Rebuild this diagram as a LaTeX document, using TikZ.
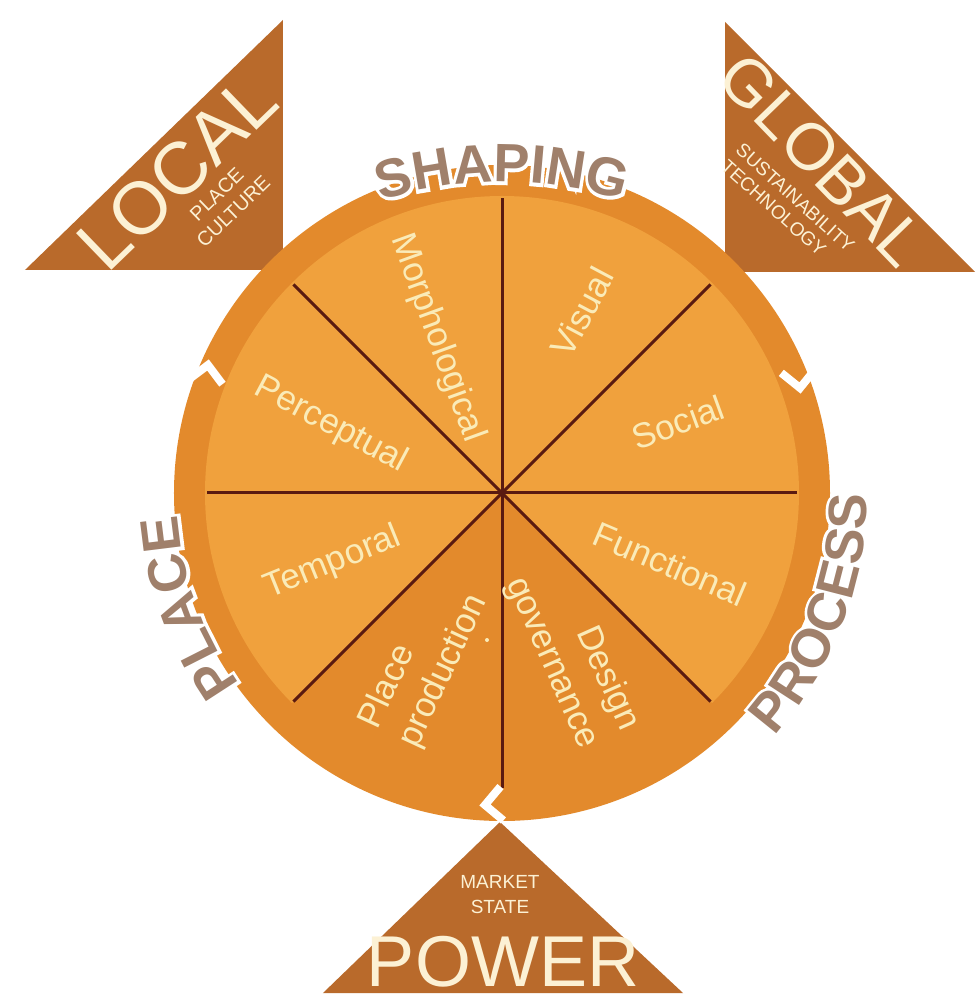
\documentclass[tikz,border=0pt]{standalone}
\usepackage{fontspec}
\setmainfont{Liberation Sans}
\newfontfamily\ringB{Liberation Sans Bold}
\newfontfamily\ringW{Liberation Sans Bold}[FakeBold=12]
\usetikzlibrary{decorations.text}
\definecolor{ringc}{HTML}{E38A2C}
\definecolor{innerc}{HTML}{F0A13D}
\definecolor{tric}{HTML}{B96A2B}
\definecolor{cream}{HTML}{FCF1D4}
\definecolor{lab}{HTML}{FAEBB8}
\definecolor{sepc}{HTML}{5A1A10}
\definecolor{ringtxt}{HTML}{A0806B}
\begin{document}
\begin{tikzpicture}[x=1pt,y=1pt,
  pielab/.style={text=lab, font=\fontsize{35}{44}\selectfont, inner sep=0pt},
  tri/.style={fill=tric},
  sepline/.style={draw=sepc, line width=3pt},
  chev/.style={draw=white, line width=8pt, miter limit=10},
  big/.style={text=cream, inner sep=0pt},
  small/.style={text=cream, font=\fontsize{20}{24}\selectfont, inner sep=0pt, align=center}]
\useasboundingbox (-502,-502) rectangle (474,493);
\fill[white] (-502,-502) rectangle (474,493);

% triangles
\fill[tri] (-219,473) -- (-477,223) -- (-219,223) -- cycle;
\fill[tri] (223,471) -- (223,221) -- (473,221) -- cycle;
\fill[tri] (-2,-329) -- (-179,-500) -- (181,-500) -- cycle;

% wheel
\fill[ringc] (0,0) circle (328);
\fill[innerc] (0,0) -- (-45:297) arc (-45:225:297) -- cycle;
\foreach \a in {0,45,...,315} \draw[sepline] (0,0) -- (\a:295);

% chevrons
\foreach \px/\py/\dir in {-294/128/82, 298/105/-84, -17/-312/185} {
  \begin{scope}[shift={(\px,\py)}, rotate=\dir]
    \draw[chev] (-17,17) -- (0,0) -- (-17,-17);
  \end{scope}
}

% pie labels
\node[pielab, rotate=-70] (morph) at (-65,155) {Morphological};
\node[pielab, rotate=62] (vis) at (80,181) {Visual};
\node[pielab, rotate=20] (soc) at (176,71) {Social};
\node[pielab, rotate=-28] (perc) at (-171,68) {Perceptual};
\node[pielab, rotate=22] (temp) at (-169,-70) {Temporal};
\node[pielab, rotate=-23] (func) at (168,-71) {Functional};
\node[pielab, rotate=65, align=left] (pp) at (-78,-169) {Place\\production};
\node[pielab, rotate=-66, align=right] (dg) at (70,-161) {Design\\governance};
\fill[lab] (-15,-147) circle (2);

% ring labels (white outline, then fill)
\path[decorate, decoration={text along path, text align=center, text color=white,
  text={|\ringW\fontsize{54}{60}\selectfont|SHAPING}}] (0,-89) ++(120:400) arc (120:60:400);
\path[decorate, decoration={text along path, text align=center, text color=ringtxt,
  text={|\ringB\fontsize{54}{60}\selectfont|SHAPING}}] (0,-89) ++(120:400) arc (120:60:400);

\path[decorate, decoration={text along path, text align=center, text color=white,
  text={|\ringW\fontsize{54}{60}\selectfont|PROCESS}}] (-60:365) arc (-60:18:365);
\path[decorate, decoration={text along path, text align=center, text color=ringtxt,
  text={|\ringB\fontsize{54}{60}\selectfont|PROCESS}}] (-60:365) arc (-60:18:365);

\path[decorate, decoration={text along path, text align=center, text color=white,
  text={|\ringW\fontsize{54}{60}\selectfont|PLACE}}] (230:325) arc (230:170:325);
\path[decorate, decoration={text along path, text align=center, text color=ringtxt,
  text={|\ringB\fontsize{54}{60}\selectfont|PLACE}}] (230:325) arc (230:170:325);

% triangle labels
\node[big, font=\fontsize{74}{74}\selectfont, rotate=44] (local) at (-325,321) {LOCAL};
\node[small, rotate=44] (lc) at (-277,290) {PLACE\\CULTURE};
\node[big, font=\fontsize{66}{66}\selectfont, rotate=-46] (global) at (321,333) {GLOBAL};
\node[small, rotate=-42, align=left, font=\fontsize{19}{22}\selectfont] (gs) at (286,287) {SUSTAINABILITY\\TECHNOLOGY};
\node[small, font=\fontsize{19}{25}\selectfont] (ms) at (-2,-402) {MARKET\\STATE};
\node[big, font=\fontsize{72}{72}\selectfont, anchor=base] (power) at (1,-493) {POWER};
\end{tikzpicture}
\end{document}
